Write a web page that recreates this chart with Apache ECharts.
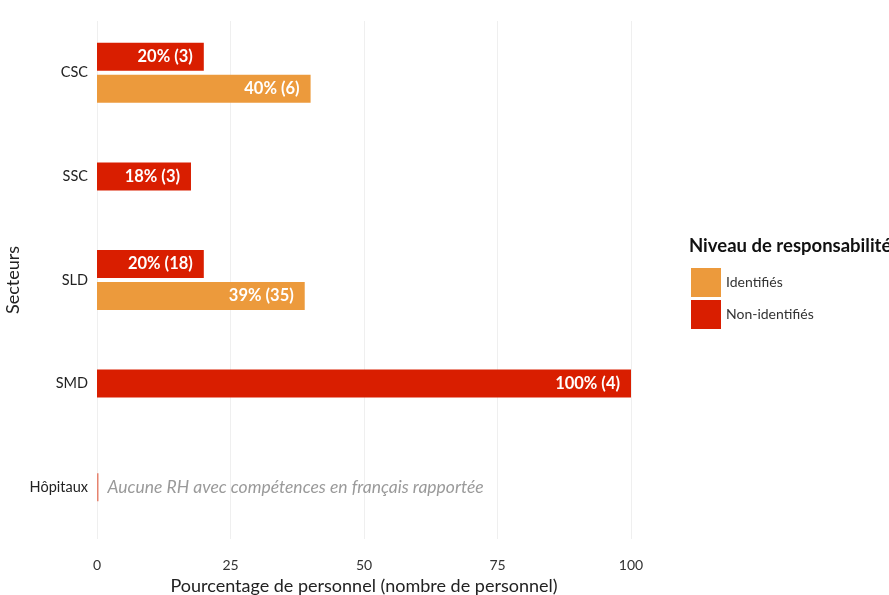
<!DOCTYPE html>
<html>
<head>
<meta charset="utf-8">
<script src="https://cdn.jsdelivr.net/npm/echarts@6/dist/echarts.min.js"></script>
<style>
  html, body { margin: 0; padding: 0; background: #fff; }
  #chart { width: 889px; height: 595px; }
</style>
</head>
<body>
<div id="chart"></div>
<script>
// secteurs, du haut vers le bas
const secteurs = ['CSC', 'SSC', 'SLD', 'SMD', 'Hôpitaux'];
const xTicks = [0, 25, 50, 75, 100];

// paires (Identifiés + Non-identifiés)
const pairNonPct = [20, null, 20, null, null];
const pairNonN = [3, null, 18, null, null];
const pairIdPct = [40, null, 38.9, null, null];
const pairIdN = [6, null, 35, null, null];

// barres seules (Non-identifiés uniquement)
const soloNonPct = [null, 17.6, null, 100, 0];
const soloNonN = [null, 3, null, 4, 0];

const noteHopitaux = 'Aucune RH avec compétences en français rapportée';

const RED = '#d91e00';
const ORANGE = '#ec9a3c';
const FONT = 'Lato, "Noto Sans", sans-serif';

function fmt(pcts, ns) {
  return p => Math.round(pcts[p.dataIndex]) + '% (' + ns[p.dataIndex] + ')';
}

const barLabel = {
  show: true,
  position: 'insideRight',
  distance: 11,
  color: '#fff',
  fontWeight: 'bold',
  fontSize: 16.5,
  fontFamily: FONT
};

const myChart = echarts.init(document.getElementById('chart'));
myChart.setOption({
  animation: false,
  textStyle: { fontFamily: FONT },
  title: {
    text: 'Niveau de responsabilité',
    left: 684,
    top: 232,
    textStyle: { fontSize: 18.5, fontWeight: 'bold', color: '#111', fontFamily: FONT }
  },
  legend: {
    orient: 'vertical',
    left: 686,
    top: 263,
    icon: 'rect',
    itemWidth: 30,
    itemHeight: 29,
    itemGap: 3,
    data: ['Identifiés', 'Non-identifiés'],
    textStyle: { fontSize: 14, color: '#333', fontFamily: FONT, padding: [0, 0, 0, 0] }
  },
  grid: { left: 97, right: 258, top: 21, height: 518, containLabel: false, outerBoundsMode: 'none' },
  xAxis: {
    type: 'value',
    min: 0,
    max: 100,
    interval: 25,
    name: 'Pourcentage de personnel (nombre de personnel)',
    nameLocation: 'middle',
    nameGap: 35,
    nameTextStyle: { fontSize: 18, color: '#222', fontFamily: FONT },
    axisLine: { show: false },
    axisTick: { show: false },
    axisLabel: {
      color: '#333', fontSize: 14, margin: 19,
      formatter: v => xTicks.includes(v) ? String(v) : ''
    },
    splitLine: { lineStyle: { color: '#efefef', width: 1 } }
  },
  yAxis: [
    {
      type: 'category',
      inverse: true,
      data: secteurs,
      name: 'Secteurs',
      nameLocation: 'middle',
      nameGap: 75,
      nameMoveOverlap: false,
      nameTextStyle: { fontSize: 18, color: '#222', fontFamily: FONT },
      axisLine: { show: false },
      axisTick: { show: false },
      axisLabel: { color: '#222', fontSize: 14.5, margin: 9 },
      splitLine: { show: false }
    },
    {
      type: 'category',
      inverse: true,
      data: secteurs,
      show: false
    }
  ],
  series: [
    {
      name: 'Non-identifiés',
      type: 'bar',
      yAxisIndex: 0,
      barWidth: 28,
      barGap: '14%',
      itemStyle: { color: RED },
      label: Object.assign({}, barLabel, { formatter: fmt(pairNonPct, pairNonN) }),
      data: pairNonPct
    },
    {
      name: 'Identifiés',
      type: 'bar',
      yAxisIndex: 0,
      barWidth: 28,
      barGap: '14%',
      itemStyle: { color: ORANGE },
      label: Object.assign({}, barLabel, { formatter: fmt(pairIdPct, pairIdN) }),
      data: pairIdPct
    },
    {
      name: 'Non-identifiés',
      type: 'bar',
      yAxisIndex: 1,
      barWidth: 28,
      barMinHeight: 1.5,
      itemStyle: { color: RED },
      label: Object.assign({}, barLabel, { formatter: fmt(soloNonPct, soloNonN) }),
      data: soloNonPct.map((v, i) => {
        if (v === 0) {
          return {
            value: v,
            itemStyle: { color: '#e6836f' },
            label: {
              show: true,
              position: 'right',
              distance: 9,
              formatter: noteHopitaux,
              color: '#9a9a9a',
              fontStyle: 'italic',
              fontWeight: 'normal',
              fontSize: 17.5
            }
          };
        }
        return v;
      })
    }
  ]
});
window.addEventListener('resize', () => {
  if (myChart) {
    myChart.resize();
  }
});
</script>
</body>
</html>
